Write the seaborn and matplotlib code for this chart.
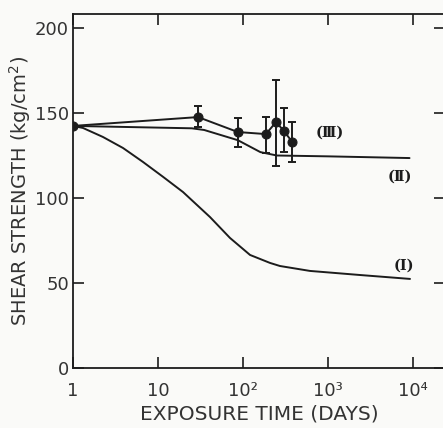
import matplotlib
matplotlib.use("Agg")
import matplotlib.pyplot as plt
import seaborn as sns
import pandas as pd
import numpy as np

# ---- data ----
curve_I_days = [1, 1.31, 2.25, 3.88, 6.66, 11.5, 19.7, 40.9, 70.3, 121, 208, 272, 614, 2380, 9220]
curve_I_strength = [142.4, 141.2, 135.9, 129.4, 121.2, 112.4, 103.5, 88.8, 76.5, 66.5, 61.8, 60, 57.1, 54.7, 52.4]

curve_II_days = [1, 25, 35, 87, 160, 250, 1000, 9100]
curve_II_strength = [142.4, 141, 140, 134, 127, 125, 124.5, 123.5]

curve_III_days = [1, 29.6, 87, 186, 245, 303, 379]
curve_III_strength = [142.4, 147.6, 138.8, 137.6, 144.7, 139.4, 133]
curve_III_err_high = [142.4, 154, 147, 147.6, 169.4, 153, 144.7]
curve_III_err_low = [142.4, 141.8, 130, 126.5, 118.8, 127, 121.2]

x_ticks = [1, 10, 100, 1000, 10000]
x_tick_labels = ["1", "10", "10²", "10³", "10⁴"]
y_ticks = [0, 50, 100, 150, 200]
y_tick_labels = ["0", "50", "100", "150", "200"]

series_labels = ["(Ⅰ)", "(Ⅱ)", "(Ⅲ)"]

sns.set_style("ticks")
plt.rcParams["font.family"] = ["DejaVu Sans"]

ink = "#1c1c1c"
txt = "#333333"
bg = "#fafaf8"

fig = plt.figure(figsize=(4.43, 4.28), dpi=100, facecolor=bg)
ax = fig.add_axes([73 / 443, 60 / 428, 372 / 443, 354 / 428])
ax.set_facecolor(bg)

dfI = pd.DataFrame({"days": curve_I_days, "strength": curve_I_strength})
dfII = pd.DataFrame({"days": curve_II_days, "strength": curve_II_strength})
dfIII = pd.DataFrame({"days": curve_III_days, "strength": curve_III_strength})

sns.lineplot(data=dfI, x="days", y="strength", sort=False, color=ink, lw=1.4, ax=ax)
sns.lineplot(data=dfII, x="days", y="strength", sort=False, color=ink, lw=1.4, ax=ax)
sns.lineplot(data=dfIII, x="days", y="strength", sort=False, color=ink, lw=1.4,
             marker="o", markersize=6.5, markeredgecolor=ink, markerfacecolor=ink, ax=ax)

s = np.array(curve_III_strength)
yerr = np.vstack([s - np.array(curve_III_err_low), np.array(curve_III_err_high) - s])
ax.errorbar(curve_III_days[1:], s[1:], yerr=yerr[:, 1:], fmt="none", ecolor=ink,
            elinewidth=1.4, capsize=3, capthick=1.4)

ax.set_xscale("log")
ax.set_xlim(1, 10 ** ((445 - 73) / 85))
ax.set_ylim(0, (368 - 14) / 85 * 50)

ax.set_xticks(x_ticks)
ax.set_xticklabels(x_tick_labels)
ax.xaxis.set_minor_locator(matplotlib.ticker.NullLocator())
ax.set_yticks(y_ticks)
ax.set_yticklabels(y_tick_labels)

ax.tick_params(axis="both", direction="in", length=8, width=1.2, color=ink,
               labelcolor=txt, labelsize=13, top=True, right=True)
ax.tick_params(axis="x", pad=10)
ax.tick_params(axis="y", pad=3)
for sp in ax.spines.values():
    sp.set_color(ink)
    sp.set_linewidth(1.3)

ax.set_xlabel("EXPOSURE TIME (DAYS)", fontsize=14.5, color=txt, labelpad=3)
ax.set_ylabel("SHEAR STRENGTH (kg/cm$^2$)", fontsize=14, color=txt, labelpad=1)

lab_font = dict(fontsize=10.5, fontweight="bold", color=ink, family=["DejaVu Serif", "DejaVu Sans"],
                ha="center", va="center")
ax.text(10 ** ((404 - 73) / 85), (368 - 266) / 85 * 50, series_labels[0], **lab_font)
ax.text(10 ** ((400 - 73) / 85), (368 - 177) / 85 * 50, series_labels[1], **lab_font)
ax.text(10 ** ((330 - 73) / 85), (368 - 133) / 85 * 50, series_labels[2], **lab_font)

fig.savefig("out.png", dpi=100, facecolor=bg)
